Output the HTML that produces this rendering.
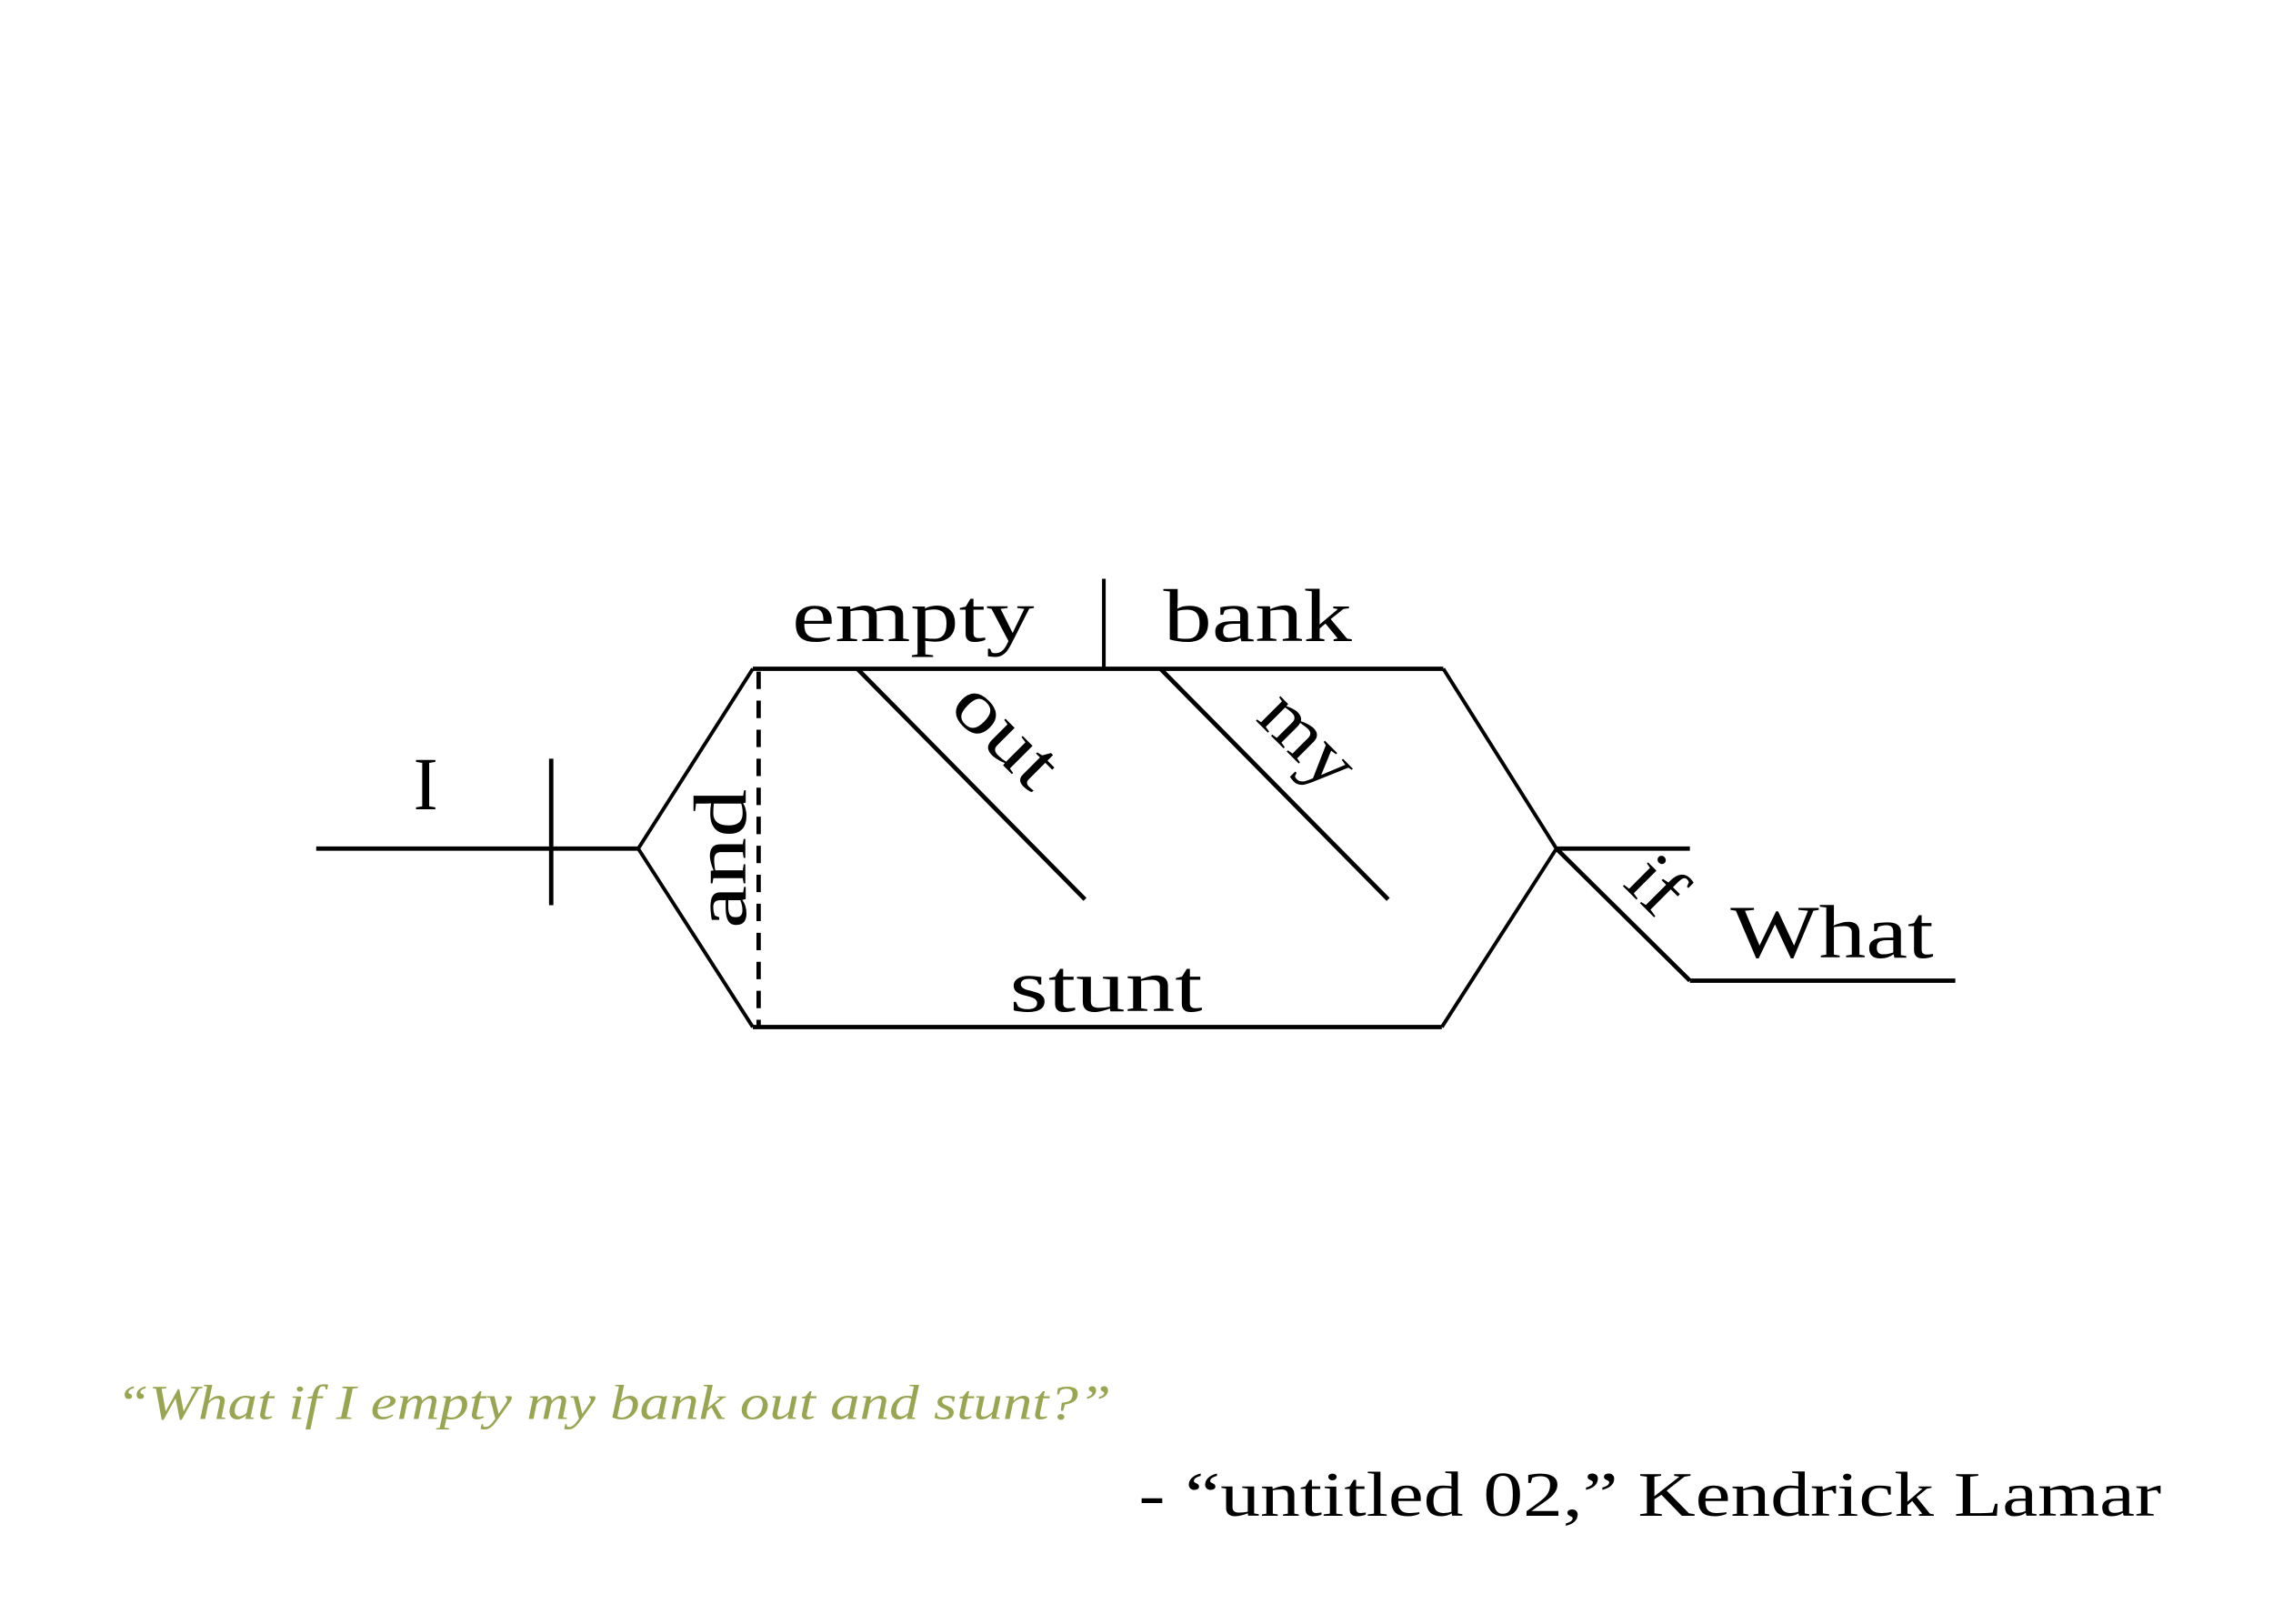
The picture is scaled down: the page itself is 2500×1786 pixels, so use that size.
<!DOCTYPE html>
<html><head><meta charset="utf-8"><style>html,body{margin:0;padding:0;background:#fff}svg{display:block}</style></head>
<body>
<svg width="2500" height="1786" viewBox="0 0 1567 1119.5" preserveAspectRatio="none" xmlns="http://www.w3.org/2000/svg">
<g stroke="#000" stroke-width="3" fill="none">
<line x1="218" y1="585" x2="440" y2="585"/>
<line x1="380" y1="523" x2="380" y2="624"/>
<polyline points="519,461 440,585 519,708" stroke-width="2.5"/>
<line x1="519" y1="461" x2="995" y2="461"/>
<line x1="519" y1="708" x2="994" y2="708"/>
<polyline points="995,461 1073,585 994,708" stroke-width="2.5"/>
<line x1="523" y1="463" x2="523" y2="708" stroke-dasharray="12,8"/>
<line x1="761" y1="399" x2="761" y2="461" stroke-width="2.5"/>
<line x1="591" y1="461" x2="748" y2="620"/>
<line x1="800" y1="461" x2="957" y2="620"/>
<line x1="1073" y1="585" x2="1165" y2="585"/>
<line x1="1073" y1="585" x2="1165" y2="676"/>
<line x1="1165" y1="676" x2="1348" y2="676"/>
</g>
<g font-family="Liberation Serif, serif" font-size="52" fill="#000">
<text x="285" y="558" textLength="17" lengthAdjust="spacingAndGlyphs">I</text>
<text x="546" y="442" textLength="167" lengthAdjust="spacingAndGlyphs">empty</text>
<text x="802" y="442" textLength="130" lengthAdjust="spacingAndGlyphs">bank</text>
<text x="696" y="697" textLength="133" lengthAdjust="spacingAndGlyphs">stunt</text>
<text x="1193" y="660" textLength="140" lengthAdjust="spacingAndGlyphs">What</text>
<text transform="translate(514,640) rotate(-90)" textLength="96" lengthAdjust="spacingAndGlyphs">and</text>
<text transform="translate(653,489) rotate(45)" textLength="82" lengthAdjust="spacingAndGlyphs">out</text>
<text transform="translate(865,496) rotate(45)" textLength="72" lengthAdjust="spacingAndGlyphs">my</text>
<text transform="translate(1118,610) rotate(45)" textLength="34" lengthAdjust="spacingAndGlyphs">if</text>
</g>
<text x="80" y="978" font-family="Liberation Serif, serif" font-style="italic" font-size="34" fill="#9aa552" textLength="686" lengthAdjust="spacingAndGlyphs">“What if I empty my bank out and stunt?”</text>
<text x="785" y="1045" font-family="Liberation Serif, serif" font-size="44" fill="#000" textLength="705" lengthAdjust="spacingAndGlyphs">- “untitled 02,” Kendrick Lamar</text>
</svg>
</body></html>
